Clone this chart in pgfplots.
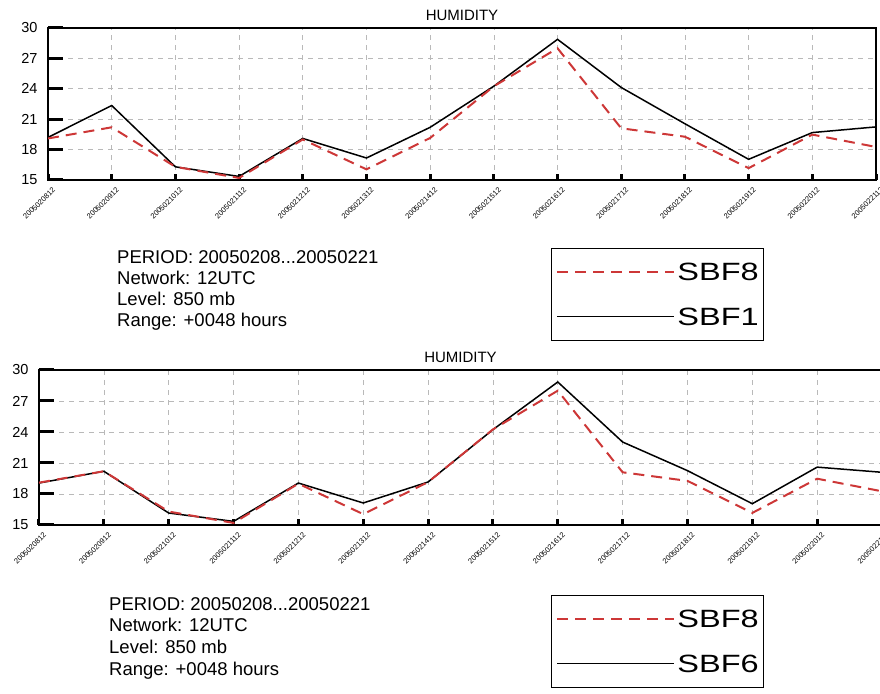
\documentclass[border=0pt]{standalone}
\usepackage{fontspec}
\setmainfont{Liberation Sans}
\usepackage{graphicx}
\usepackage{pgfplots}
\pgfplotsset{compat=1.18}
\definecolor{sbfred}{RGB}{205,55,55}
\pgfplotsset{
  humstyle/.style={
    scale only axis,
    anchor=south west,
    xmin=0, xmax=13, ymin=15, ymax=30,
    xtick={0,...,13},
    xticklabels={2005020812,2005020912,2005021012,2005021112,2005021212,2005021312,2005021412,2005021512,2005021612,2005021712,2005021812,2005021912,2005022012,2005022112},
    ytick={15,18,21,24,27,30},
    minor ytick={15,18,21,24,27,30},
    tick pos=left,
    tick align=inside,
    major tick length=6pt,
    minor tick length=15pt,
    tick style={line width=3pt,black},
    minor tick style={line width=3pt,black},
    axis line style={line width=1.5pt},
    grid=major,
    major grid style={gray!55, line width=0.6pt, dash pattern=on 5pt off 5pt},
    /pgf/number format/assume math mode=true,
    yticklabel style={font=\fontsize{14.5}{14.5}\selectfont, xshift=-7pt},
    xticklabel style={font=\fontsize{7.5}{7.5}\selectfont, xshift=4pt, yshift=-5pt, rotate=45, anchor=north east, inner sep=1pt},
    title={HUMIDITY},
    title style={at={(0.5,1)}, anchor=base, yshift=1pt, font=\fontsize{15}{15}\selectfont},
    legend image code/.code={\draw[##1] (0pt,0pt) -- (117pt,0pt);},
    legend style={draw=black, line width=0.8pt, anchor=north west,
      font=\fontsize{25}{25}\selectfont,
      nodes={inner sep=0pt, text depth=0pt},
      column sep=2pt, row sep=27pt, inner xsep=5pt, inner ysep=15pt},
    legend cell align=left,
    reverse legend,
  },
  blk/.style={black, line width=1.5pt, mark=none},
  rd/.style={sbfred, line width=2pt, mark=none, dash pattern=on 11pt off 7pt},
}
\begin{document}
\begin{tikzpicture}
\useasboundingbox (0,0) rectangle (880pt,693pt);
\clip (0,0) rectangle (880pt,693pt);
% ---------- top panel ----------
\begin{axis}[humstyle, at={(48pt,513pt)}, width=828pt, height=152pt,
  legend style={at={(0.6075,-0.447)}}]
\addplot[blk] coordinates {(0,19.2) (1,22.35) (2,16.3) (3,15.35) (4,19.1) (5,17.17) (6,20.2) (7,24.26) (8,28.88) (9,24.13) (10,20.55) (11,17.04) (12,19.68) (13,20.24)};
\addlegendentry{\scalebox{1.3}[1]{SBF1}}
\addplot[rd] coordinates {(0,19.1) (1,20.2) (2,16.3) (3,15.2) (4,19.0) (5,16.05) (6,19.15) (7,24.25) (8,28.0) (9,20.1) (10,19.27) (11,16.17) (12,19.48) (13,18.26)};
\addlegendentry{\scalebox{1.3}[1]{SBF8}}
\end{axis}
% ---------- bottom panel ----------
\begin{axis}[humstyle, at={(39pt,168pt)}, width=843pt, height=155pt,
  legend style={at={(0.6074,-0.4516)}}]
\addplot[blk] coordinates {(0,19.06) (1,20.2) (2,16.16) (3,15.35) (4,19.06) (5,17.13) (6,19.16) (7,24.23) (8,28.84) (9,23.03) (10,20.26) (11,17.06) (12,20.6) (13,20.1)};
\addlegendentry{\scalebox{1.3}[1]{SBF6}}
\addplot[rd] coordinates {(0,19.1) (1,20.2) (2,16.3) (3,15.2) (4,19.0) (5,16.05) (6,19.15) (7,24.25) (8,28.0) (9,20.1) (10,19.27) (11,16.17) (12,19.48) (13,18.26)};
\addlegendentry{\scalebox{1.3}[1]{SBF8}}
\end{axis}
% ---------- info text ----------
\begin{scope}[every node/.style={anchor=base west, inner sep=0pt, font=\fontsize{18.5}{18.5}\selectfont}]
\node at (117pt,429.4pt) {PERIOD: 20050208...20050221};
\node at (117pt,408.4pt) {Network: 12UTC};
\node at (117pt,387.4pt) {Level: 850 mb};
\node at (117pt,366.4pt) {Range: +0048 hours};
\node at (109pt,82.4pt) {PERIOD: 20050208...20050221};
\node at (109pt,61pt) {Network: 12UTC};
\node at (109pt,39.5pt) {Level: 850 mb};
\node at (109pt,18pt) {Range: +0048 hours};
\end{scope}
\end{tikzpicture}
\end{document}
